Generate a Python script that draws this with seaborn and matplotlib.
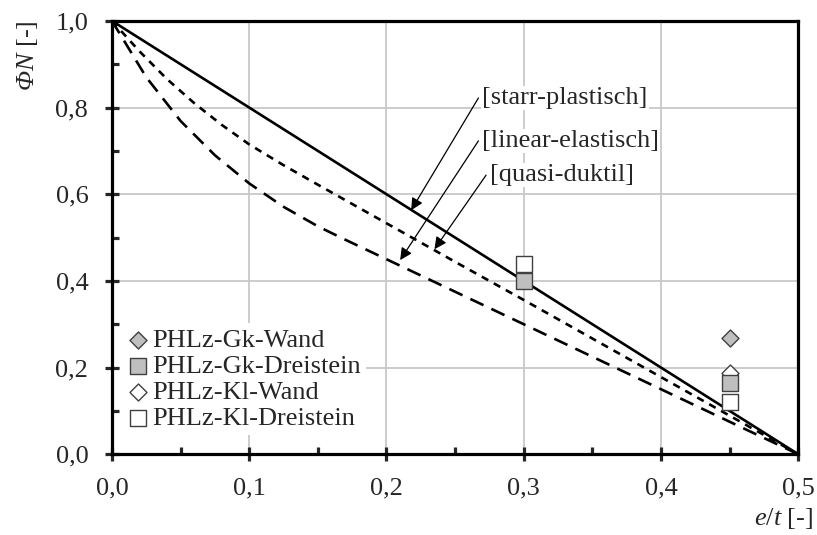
import matplotlib
matplotlib.use('Agg')
import matplotlib.pyplot as plt
import seaborn as sns
from matplotlib.ticker import FuncFormatter, MultipleLocator

# Bemessungskurven: Traglastfaktor Phi_N ueber e/t
et_plast = [0.0, 0.5]
phi_plast = [1.0, 0.0]

et_lin = [0.0, 0.025, 0.05, 0.075, 0.1, 0.125, 0.15, 0.1667, 0.2, 0.25, 0.3, 0.35, 0.4, 0.45, 0.5]
phi_lin = [1.0, 0.870, 0.769, 0.690, 0.625, 0.571, 0.526, 0.500, 0.450, 0.375, 0.300, 0.225, 0.150, 0.075, 0.0]

et_quasi = [0.0, 0.02, 0.04, 0.06, 0.08, 0.1, 0.125, 0.15, 0.2, 0.25, 0.3, 0.35, 0.4, 0.45, 0.5]
phi_quasi = [1.0, 0.930, 0.866, 0.810, 0.760, 0.715, 0.667, 0.622, 0.533, 0.444, 0.356, 0.267, 0.178, 0.089, 0.0]

# Versuchswerte
gk_wand_et = [0.45]
gk_wand_phi = [0.268]
gk_drei_et = [0.3, 0.45]
gk_drei_phi = [0.40, 0.164]
kl_wand_et = [0.45]
kl_wand_phi = [0.187]
kl_drei_et = [0.3, 0.45]
kl_drei_phi = [0.44, 0.12]

sns.set_style("ticks")
plt.rcParams['font.family'] = ['Liberation Serif', 'DejaVu Serif']
plt.rcParams['mathtext.fontset'] = 'custom'
plt.rcParams['mathtext.rm'] = 'Liberation Serif'
plt.rcParams['mathtext.it'] = 'Liberation Serif:italic'
# sf wird als kursiv missbraucht, damit auch das grosse Phi kursiv wird
plt.rcParams['mathtext.sf'] = 'Liberation Serif:italic'
plt.rcParams['font.size'] = 19

fig, ax = plt.subplots(figsize=(8.17, 5.35), dpi=100)
fig.subplots_adjust(left=0.137, right=0.977, top=0.961, bottom=0.151)

lw = 1.9
sns.lineplot(x=et_plast, y=phi_plast, ax=ax, color='black', lw=lw, legend=False)
sns.lineplot(x=et_lin, y=phi_lin, ax=ax, color='black', lw=lw, legend=False)
ax.lines[-1].set_dashes((5.5, 3.3))
sns.lineplot(x=et_quasi, y=phi_quasi, ax=ax, color='black', lw=lw, legend=False)
ax.lines[-1].set_dashes((2.8, 2.4))

gray = '#bfbfbf'
edge = '#404040'
sns.scatterplot(x=gk_wand_et, y=gk_wand_phi, ax=ax, marker='D', s=75, color=gray,
                edgecolor=edge, linewidth=1, label='PHLz-Gk-Wand', zorder=5)
sns.scatterplot(x=gk_drei_et, y=gk_drei_phi, ax=ax, marker='s', s=135, color=gray,
                edgecolor=edge, linewidth=1, label='PHLz-Gk-Dreistein', zorder=5)
sns.scatterplot(x=kl_wand_et, y=kl_wand_phi, ax=ax, marker='D', s=75, color='white',
                edgecolor=edge, linewidth=1, label='PHLz-Kl-Wand', zorder=4)
sns.scatterplot(x=kl_drei_et, y=kl_drei_phi, ax=ax, marker='s', s=135, color='white',
                edgecolor=edge, linewidth=1, label='PHLz-Kl-Dreistein', zorder=5)

ax.set_xlim(0, 0.5)
ax.set_ylim(0, 1.0)
ax.xaxis.set_major_locator(MultipleLocator(0.1))
ax.xaxis.set_minor_locator(MultipleLocator(0.05))
ax.yaxis.set_major_locator(MultipleLocator(0.2))
ax.yaxis.set_minor_locator(MultipleLocator(0.1))
comma = FuncFormatter(lambda v, p: f'{v:.1f}'.replace('.', ','))
ax.xaxis.set_major_formatter(comma)
ax.yaxis.set_major_formatter(comma)
ax.grid(True, which='major', color='#c8c8c8', lw=1.3)
ax.set_axisbelow(True)
for sp in ax.spines.values():
    sp.set_visible(True)
    sp.set_linewidth(2.3)
    sp.set_color('black')
ax.tick_params(which='major', direction='inout', length=10, width=2.3, labelsize=19)
ax.tick_params(axis='x', which='major', pad=12)
ax.tick_params(axis='y', which='major', pad=12)
ax.tick_params(which='minor', direction='in', length=5, width=2.3)
ax.tick_params(top=False, right=False, which='both')

ax.set_ylabel(r'$\mathsf{ΦN}$ [-]', fontsize=19)
ax.yaxis.set_label_coords(-0.105, 0.92)
ax.set_xlabel(r'$\mathit{e/t}$ [-]', fontsize=19, ha='right')
ax.xaxis.set_label_coords(1.022, -0.12)

box = dict(boxstyle='square,pad=0.05', fc='white', ec='none')
arrow = dict(arrowstyle='-|>', color='black', lw=0.9, shrinkA=0, shrinkB=0, mutation_scale=18)
labels = ['[starr-plastisch]', '[linear-elastisch]', '[quasi-duktil]']
text_pos = [(0.2697, 0.822), (0.2697, 0.723), (0.2755, 0.644)]
tails = [(0.267, 0.822), (0.267, 0.723), (0.2726, 0.644)]
tips = [(0.218, 0.563), (0.21, 0.448), (0.235, 0.473)]
for lab, tp, tl, tip in zip(labels, text_pos, tails, tips):
    ax.text(tp[0], tp[1], lab, ha='left', va='center', fontsize=19, bbox=box, zorder=6)
    ax.annotate('', xy=tip, xytext=tl, arrowprops=arrow, zorder=6)

leg = ax.legend(loc='lower left', bbox_to_anchor=(0.0, 0.025), borderaxespad=0.3,
                handletextpad=0.02, handlelength=1.0, labelspacing=0.1, borderpad=0.2,
                frameon=True, fancybox=False, framealpha=1, edgecolor='none',
                facecolor='white', fontsize=19)
leg.set_zorder(7)

fig.savefig('out.png', dpi=100)
